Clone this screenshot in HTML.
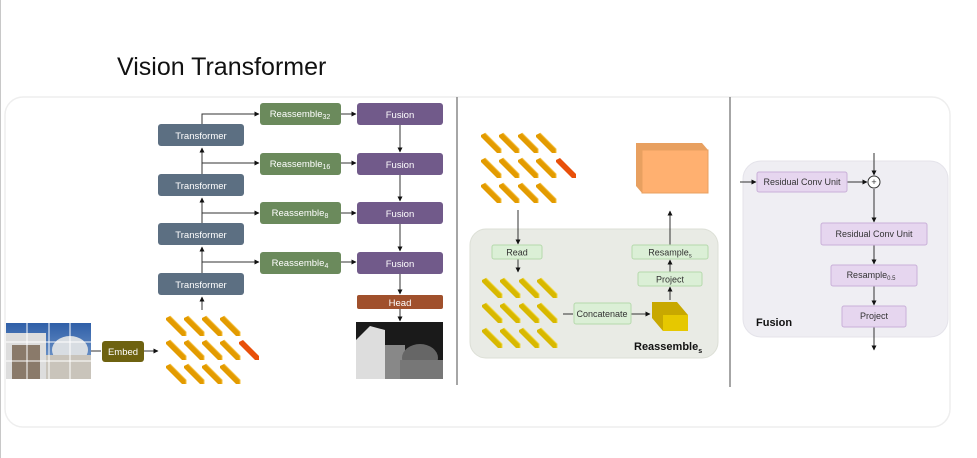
<!DOCTYPE html>
<html><head><meta charset="utf-8"><style>
html,body{margin:0;padding:0;background:#fff;}
svg{display:block;font-family:"Liberation Sans",sans-serif;}
</style></head><body>
<svg width="977" height="458" viewBox="0 0 977 458" xmlns="http://www.w3.org/2000/svg">
<defs>
<marker id="a" viewBox="0 0 10 10" refX="9" refY="5" markerWidth="5" markerHeight="5" orient="auto"><path d="M0,0 L10,5 L0,10 z" fill="#111"/></marker>
<linearGradient id="sky" x1="0" y1="0" x2="0" y2="1"><stop offset="0" stop-color="#2f5fa8"/><stop offset="1" stop-color="#8fb0d8"/></linearGradient>
<linearGradient id="dep" x1="0" y1="0" x2="1" y2="1"><stop offset="0" stop-color="#eee"/><stop offset="1" stop-color="#555"/></linearGradient>
<g id="tok"><path d="M0,0 L4,-2 L20,14 L20,18 L16,18 L0,2 z" fill="#e39b00"/><path d="M4,-2 L20,14 L20,18" fill="none" stroke="#f5c040" stroke-width="1"/></g>
<g id="tokr"><path d="M0,0 L4,-2 L20,14 L20,18 L16,18 L0,2 z" fill="#e8500a"/></g>
<g id="toky"><path d="M0,0 L4,-2 L20,14 L20,18 L16,18 L0,2 z" fill="#d8b800"/><path d="M4,-2 L20,14 L20,18" fill="none" stroke="#f0d840" stroke-width="1"/></g>
</defs>
<line x1="0.5" y1="0" x2="0.5" y2="458" stroke="#c8c8c8"/>
<text x="117" y="75" font-size="25" fill="#111">Vision Transformer</text>
<rect x="5" y="97" width="945" height="330" rx="18" fill="#fff" stroke="#eee" stroke-width="1.5"/>
<line x1="457" y1="97" x2="457" y2="385" stroke="#888" stroke-width="1.5"/>
<line x1="730" y1="97" x2="730" y2="387" stroke="#888" stroke-width="1.5"/>

<!-- left panel -->
<g stroke="#333" stroke-width="1" fill="none">
<line x1="202" y1="310" x2="202" y2="297" marker-end="url(#a)"/>
<line x1="202" y1="273" x2="202" y2="247" marker-end="url(#a)"/>
<line x1="202" y1="223" x2="202" y2="198" marker-end="url(#a)"/>
<line x1="202" y1="174" x2="202" y2="148" marker-end="url(#a)"/>
<polyline points="202,124 202,114 259,114" marker-end="url(#a)"/>
<line x1="202" y1="163" x2="259" y2="163" marker-end="url(#a)"/>
<line x1="202" y1="213" x2="259" y2="213" marker-end="url(#a)"/>
<line x1="202" y1="262" x2="259" y2="262" marker-end="url(#a)"/>
<line x1="341" y1="114" x2="356" y2="114" marker-end="url(#a)"/>
<line x1="341" y1="163" x2="356" y2="163" marker-end="url(#a)"/>
<line x1="341" y1="213" x2="356" y2="213" marker-end="url(#a)"/>
<line x1="341" y1="262" x2="356" y2="262" marker-end="url(#a)"/>
<line x1="400" y1="125" x2="400" y2="152" marker-end="url(#a)"/>
<line x1="400" y1="175" x2="400" y2="201" marker-end="url(#a)"/>
<line x1="400" y1="224" x2="400" y2="251" marker-end="url(#a)"/>
<line x1="400" y1="274" x2="400" y2="294" marker-end="url(#a)"/>
<line x1="400" y1="309" x2="400" y2="321" marker-end="url(#a)"/>
<line x1="91" y1="351" x2="101" y2="351"/>
<line x1="144" y1="351" x2="158" y2="351" marker-end="url(#a)"/>
</g>
<g font-size="9.5" fill="#fff" text-anchor="middle">
<rect x="158" y="124" width="86" height="22" rx="3" fill="#5c6f82"/><text x="201" y="139">Transformer</text>
<rect x="158" y="174" width="86" height="22" rx="3" fill="#5c6f82"/><text x="201" y="189">Transformer</text>
<rect x="158" y="223" width="86" height="22" rx="3" fill="#5c6f82"/><text x="201" y="238">Transformer</text>
<rect x="158" y="273" width="86" height="22" rx="3" fill="#5c6f82"/><text x="201" y="288">Transformer</text>
<rect x="260" y="103" width="81" height="22" rx="3" fill="#6b8a5c"/><text x="300" y="117">Reassemble<tspan font-size="7" dy="2">32</tspan></text>
<rect x="260" y="153" width="81" height="22" rx="3" fill="#6b8a5c"/><text x="300" y="167">Reassemble<tspan font-size="7" dy="2">16</tspan></text>
<rect x="260" y="202" width="81" height="22" rx="3" fill="#6b8a5c"/><text x="300" y="216">Reassemble<tspan font-size="7" dy="2">8</tspan></text>
<rect x="260" y="252" width="81" height="22" rx="3" fill="#6b8a5c"/><text x="300" y="266">Reassemble<tspan font-size="7" dy="2">4</tspan></text>
<rect x="357" y="103" width="86" height="22" rx="3" fill="#715a8a"/><text x="400" y="118">Fusion</text>
<rect x="357" y="153" width="86" height="22" rx="3" fill="#715a8a"/><text x="400" y="168">Fusion</text>
<rect x="357" y="202" width="86" height="22" rx="3" fill="#715a8a"/><text x="400" y="217">Fusion</text>
<rect x="357" y="252" width="86" height="22" rx="3" fill="#715a8a"/><text x="400" y="267">Fusion</text>
<rect x="357" y="295" width="86" height="14" rx="2" fill="#a0502c"/><text x="400" y="306">Head</text>
<rect x="102" y="341" width="42" height="21" rx="3" fill="#6e6210"/><text x="123" y="355">Embed</text>
</g>
<!-- photo -->
<rect x="6" y="323" width="85" height="56" fill="url(#sky)"/>
<rect x="6" y="333" width="40" height="46" fill="#ddd"/>
<rect x="12" y="345" width="28" height="34" fill="#8a7a6a"/>
<ellipse cx="70" cy="350" rx="18" ry="14" fill="#d8dde2"/>
<rect x="46" y="355" width="45" height="24" fill="#c9c4bb"/>
<g stroke="#fff" stroke-width="1"><line x1="27" y1="323" x2="27" y2="379"/><line x1="49" y1="323" x2="49" y2="379"/><line x1="70" y1="323" x2="70" y2="379"/><line x1="6" y1="342" x2="91" y2="342"/><line x1="6" y1="361" x2="91" y2="361"/></g>
<!-- depth -->
<rect x="356" y="322" width="87" height="57" fill="#1a1a1a"/>
<path d="M356,340 L370,326 L385,330 L385,379 L356,379 z" fill="#ddd"/>
<rect x="385" y="345" width="20" height="34" fill="#888"/>
<ellipse cx="420" cy="358" rx="18" ry="14" fill="#666"/>
<rect x="400" y="360" width="43" height="19" fill="#777"/>
<!-- tokens left -->
<g>
<use href="#tok" x="166" y="318"/><use href="#tok" x="184" y="318"/><use href="#tok" x="202" y="318"/><use href="#tok" x="220" y="318"/>
<use href="#tok" x="166" y="342"/><use href="#tok" x="184" y="342"/><use href="#tok" x="202" y="342"/><use href="#tok" x="220" y="342"/><use href="#tokr" x="239" y="342"/>
<use href="#tok" x="166" y="366"/><use href="#tok" x="184" y="366"/><use href="#tok" x="202" y="366"/><use href="#tok" x="220" y="366"/>
</g>

<!-- middle panel -->
<rect x="470" y="229" width="248" height="129" rx="16" fill="#e9ebe5" stroke="#dcdfd6"/>
<use href="#tok" x="481" y="135"/><use href="#tok" x="499" y="135"/><use href="#tok" x="518" y="135"/><use href="#tok" x="536" y="135"/>
<use href="#tok" x="481" y="160"/><use href="#tok" x="499" y="160"/><use href="#tok" x="518" y="160"/><use href="#tok" x="536" y="160"/><use href="#tokr" x="556" y="160"/>
<use href="#tok" x="481" y="185"/><use href="#tok" x="499" y="185"/><use href="#tok" x="518" y="185"/><use href="#tok" x="536" y="185"/>
<use href="#toky" x="482" y="280"/><use href="#toky" x="500" y="280"/><use href="#toky" x="519" y="280"/><use href="#toky" x="537" y="280"/>
<use href="#toky" x="482" y="305"/><use href="#toky" x="500" y="305"/><use href="#toky" x="519" y="305"/><use href="#toky" x="537" y="305"/>
<use href="#toky" x="482" y="330"/><use href="#toky" x="500" y="330"/><use href="#toky" x="519" y="330"/><use href="#toky" x="537" y="330"/>
<path d="M636,143 L702,143 L708,150 L708,193 L642,193 L636,186 z" fill="#e8a060"/>
<rect x="642" y="150" width="66" height="43" fill="#ffb070" stroke="#e8a060"/>
<path d="M652,302 L677,302 L688,315 L688,331 L663,331 L652,318 z" fill="#c8a800"/>
<rect x="663" y="315" width="25" height="16" fill="#e6c800"/>
<g stroke="#333" stroke-width="1" fill="none">
<line x1="518" y1="210" x2="518" y2="244" marker-end="url(#a)"/>
<line x1="518" y1="259" x2="518" y2="272" marker-end="url(#a)"/>
<line x1="563" y1="314" x2="573" y2="314"/>
<line x1="631" y1="314" x2="650" y2="314" marker-end="url(#a)"/>
<line x1="670" y1="300" x2="670" y2="287" marker-end="url(#a)"/>
<line x1="670" y1="272" x2="670" y2="260" marker-end="url(#a)"/>
<line x1="670" y1="245" x2="670" y2="211" marker-end="url(#a)"/>
</g>
<g font-size="9" fill="#333" text-anchor="middle">
<rect x="492" y="245" width="50" height="14" rx="2" fill="#dbefd6" stroke="#b5d9ac"/><text x="517" y="255.5">Read</text>
<rect x="574" y="303" width="57" height="21" rx="2" fill="#dbefd6" stroke="#b5d9ac"/><text x="602" y="317">Concatenate</text>
<rect x="638" y="272" width="64" height="14" rx="2" fill="#dbefd6" stroke="#b5d9ac"/><text x="670" y="282.5">Project</text>
<rect x="632" y="245" width="76" height="14" rx="2" fill="#dbefd6" stroke="#b5d9ac"/><text x="670" y="255.5">Resample<tspan font-size="6" dy="2">s</tspan></text>
</g>
<text x="634" y="350" font-size="11" font-weight="bold" fill="#111">Reassemble<tspan font-size="7" dy="3">s</tspan></text>

<!-- right panel -->
<rect x="743" y="161" width="205" height="176" rx="18" fill="#efeef3" stroke="#e4e3ea"/>
<g stroke="#333" stroke-width="1" fill="none">
<line x1="740" y1="182" x2="756" y2="182" marker-end="url(#a)"/>
<line x1="847" y1="182" x2="867" y2="182" marker-end="url(#a)"/>
<line x1="874" y1="153" x2="874" y2="175" marker-end="url(#a)"/>
<line x1="874" y1="189" x2="874" y2="222" marker-end="url(#a)"/>
<line x1="874" y1="245" x2="874" y2="264" marker-end="url(#a)"/>
<line x1="874" y1="286" x2="874" y2="305" marker-end="url(#a)"/>
<line x1="874" y1="327" x2="874" y2="350" marker-end="url(#a)"/>
</g>
<circle cx="874" cy="182" r="6" fill="#fff" stroke="#333"/>
<text x="874" y="185" font-size="9" text-anchor="middle" fill="#333">+</text>
<g font-size="9" fill="#333" text-anchor="middle">
<rect x="757" y="172" width="90" height="20" rx="2" fill="#e6d6ef" stroke="#c9b0d8"/><text x="802" y="185">Residual Conv Unit</text>
<rect x="821" y="223" width="106" height="22" rx="2" fill="#e6d6ef" stroke="#c9b0d8"/><text x="874" y="237">Residual Conv Unit</text>
<rect x="831" y="265" width="86" height="21" rx="2" fill="#e6d6ef" stroke="#c9b0d8"/><text x="871" y="278">Resample<tspan font-size="6" dy="2">0.5</tspan></text>
<rect x="842" y="306" width="64" height="21" rx="2" fill="#e6d6ef" stroke="#c9b0d8"/><text x="874" y="319">Project</text>
</g>
<text x="756" y="326" font-size="11" font-weight="bold" fill="#111">Fusion</text>
</svg>
</body></html>
